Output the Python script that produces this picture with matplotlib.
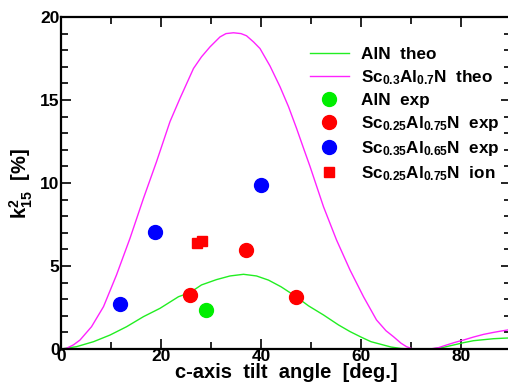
import matplotlib
matplotlib.use('Agg')
import matplotlib.pyplot as plt
from matplotlib.ticker import MultipleLocator

plt.rcParams['font.family'] = ['Liberation Sans', 'DejaVu Sans']
plt.rcParams['font.weight'] = 'bold'
plt.rcParams['mathtext.fontset'] = 'custom'
plt.rcParams['mathtext.rm'] = 'Liberation Sans:bold'
plt.rcParams['mathtext.bf'] = 'Liberation Sans:bold'
plt.rcParams['mathtext.default'] = 'bf'

# theoretical curves
aln_theo_x = [0, 3.1, 6.5, 9.8, 13.1, 16.5, 19.8, 23.5, 25.8, 28.1, 31.1, 33.8,
              36.5, 39.1, 41.5, 44.0, 46.8, 49.5, 52.5, 55.5, 57.8, 60.0, 62.0,
              64.0, 66.0, 68.0, 70.0, 72.0, 74.5, 76.5, 78.5, 80.5, 82.5, 84.5,
              86.5, 88.5, 90]
aln_theo_y = [0, 0.14, 0.44, 0.84, 1.34, 1.95, 2.45, 3.15, 3.4, 3.86, 4.18, 4.4,
              4.5, 4.4, 4.15, 3.75, 3.2, 2.6, 2.05, 1.45, 1.05, 0.72, 0.44,
              0.28, 0.12, 0.03, 0.0, 0.0, 0.02, 0.1, 0.24, 0.38, 0.5, 0.56,
              0.62, 0.65, 0.67]
scaln_theo_x = [0, 1.1, 2.5, 3.8, 6.1, 8.5, 11.1, 13.8, 16.5, 19.1, 21.8, 23.8,
                26.5, 28.1, 29.8, 31.8, 33.0, 34.5, 36.0, 37.1, 38.5, 39.8, 41.8,
                43.8, 45.5, 47.1, 48.5, 49.8, 52.5, 55.1, 57.8, 60.5, 63.1, 65.0,
                66.5, 68.0, 69.1, 70.2, 72.0, 73.8, 75.5, 77.1, 78.8, 80.5, 82.5,
                84.5, 86.5, 88.0, 90]
scaln_theo_y = [0, 0.04, 0.25, 0.54, 1.34, 2.55, 4.46, 6.67, 9.08, 11.28, 13.7, 15.1,
                16.9, 17.6, 18.2, 18.8, 19.0, 19.05, 19.0, 18.87, 18.5, 18.1, 17.05,
                15.8, 14.6, 13.3, 12.1, 11.0, 8.57, 6.57, 4.76, 3.15, 1.75, 1.1,
                0.74, 0.35, 0.14, 0.02, 0.0, 0.0, 0.08, 0.24, 0.4, 0.54, 0.72,
                0.88, 1.0, 1.08, 1.18]

# experimental points
aln_exp_x = [28.9]
aln_exp_y = [2.36]
sc25_exp_x = [25.8, 37.0, 46.9]
sc25_exp_y = [3.27, 5.98, 3.12]
sc35_exp_x = [11.8, 18.8, 40.0]
sc35_exp_y = [2.72, 7.05, 9.9]
sc25_ion_x = [27.2, 28.2]
sc25_ion_y = [6.4, 6.48]

fig = plt.figure(figsize=(5.08, 3.85), dpi=100)
ax = fig.add_axes([61 / 508, 36 / 385, 450 / 508, 332 / 385])

ax.plot(aln_theo_x, aln_theo_y, color='#22ee22', lw=1.0, label='AlN  theo')
ax.plot(scaln_theo_x, scaln_theo_y, color='#ff22ff', lw=1.0,
        label=r'Sc$_{0.3}$Al$_{0.7}$N  theo')
ax.plot(aln_exp_x, aln_exp_y, 'o', color='#00ee00', ms=10, label='AlN  exp')
ax.plot(sc25_exp_x, sc25_exp_y, 'o', color='#ff0000', ms=10,
        label=r'Sc$_{0.25}$Al$_{0.75}$N  exp')
ax.plot(sc35_exp_x, sc35_exp_y, 'o', color='#0000ff', ms=10,
        label=r'Sc$_{0.35}$Al$_{0.65}$N  exp')
ax.plot(sc25_ion_x, sc25_ion_y, 's', color='#ff0000', ms=7,
        label=r'Sc$_{0.25}$Al$_{0.75}$N  ion')

ax.set_xlim(0, 90)
ax.set_ylim(0, 20)
ax.xaxis.set_major_locator(MultipleLocator(20))
ax.xaxis.set_minor_locator(MultipleLocator(10))
ax.yaxis.set_major_locator(MultipleLocator(5))
ax.yaxis.set_minor_locator(MultipleLocator(1))
ax.tick_params(which='both', direction='in', top=True, right=True, width=1.2,
               labelsize=12.5, pad=1)
ax.tick_params(axis='x', pad=0)
ax.tick_params(which='major', length=7)
ax.tick_params(which='minor', length=5)
for lbl in ax.get_xticklabels() + ax.get_yticklabels():
    lbl.set_fontweight('bold')
for s in ax.spines.values():
    s.set_linewidth(1.6)

ax.set_xlabel('c-axis  tilt  angle  [deg.]', fontsize=14.5, fontweight='bold',
              labelpad=-1)
ax.set_ylabel(r'k$^{2}_{15}$  [%]', fontsize=14.5, fontweight='bold', labelpad=4)

leg = ax.legend(loc='upper left', bbox_to_anchor=(0.553, 0.91), frameon=False,
                fontsize=12.3, handlelength=2.3, labelspacing=0.36,
                handletextpad=0.7, borderaxespad=0, borderpad=0)
for t in leg.get_texts():
    t.set_fontweight('bold')

fig.savefig('out.png', dpi=100)
